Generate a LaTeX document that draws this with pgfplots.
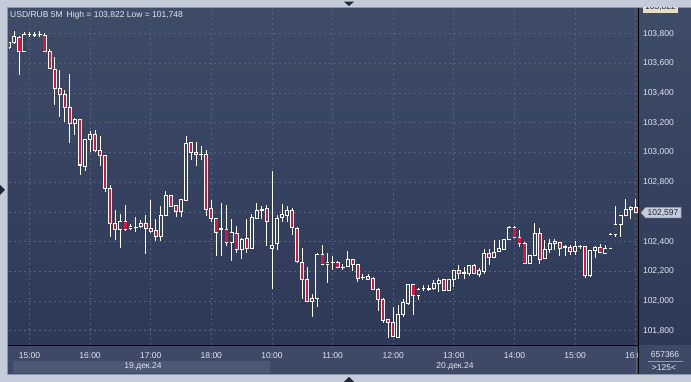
\documentclass[border=0pt]{standalone}
\usepackage{pgfplots}
\pgfplotsset{compat=1.18}
\usepackage{pgfplotstable}
\usepackage{fontspec}
\setmainfont{Liberation Sans}
\definecolor{frame}{HTML}{C4CCDA}
\definecolor{frameedge}{HTML}{8C97AB}
\definecolor{bgtop}{HTML}{3F4C68}
\definecolor{bgbot}{HTML}{2D3957}
\definecolor{band}{HTML}{3D4966}
\definecolor{band2}{HTML}{4A5876}
\definecolor{gridc}{HTML}{56637E}
\definecolor{txt}{HTML}{E2E6EE}
\definecolor{bear}{HTML}{DC143C}
\definecolor{bullfill}{HTML}{36435F}
\definecolor{tri}{HTML}{1C2638}
\definecolor{beige}{HTML}{E6DFC6}
\pgfplotstableread{
k o h l c
-4 103.706 103.745 103.700 103.739
-3 103.743 103.822 103.728 103.780
-2 103.775 103.785 103.521 103.679
-1 103.683 103.815 103.680 103.795
0 103.795 103.810 103.780 103.795
1 103.795 103.810 103.775 103.790
2 103.793 103.820 103.775 103.793
3 103.790 103.802 103.676 103.679
4 103.680 103.695 103.560 103.564
5 103.559 103.645 103.318 103.429
6 103.429 103.559 103.237 103.388
7 103.388 103.424 103.204 103.301
8 103.301 103.532 103.065 103.193
9 103.193 103.233 103.116 103.222
10 103.222 103.228 102.849 102.916
11 102.907 103.090 102.873 103.087
12 103.087 103.147 103.001 103.121
13 103.121 103.154 103.005 103.011
14 103.011 103.114 102.907 102.977
15 102.977 102.980 102.731 102.761
16 102.761 102.778 102.430 102.525
17 102.525 102.614 102.412 102.484
18 102.484 102.587 102.356 102.534
19 102.534 102.648 102.470 102.484
20 102.490 102.520 102.480 102.500
21 102.495 102.569 102.468 102.497
22 102.502 102.547 102.491 102.525
23 102.525 102.581 102.318 102.491
24 102.491 102.682 102.457 102.468
25 102.473 102.552 102.407 102.434
26 102.434 102.641 102.407 102.579
27 102.579 102.738 102.579 102.709
28 102.709 102.712 102.630 102.637
29 102.641 102.645 102.563 102.603
30 102.603 102.685 102.563 102.682
31 102.677 103.109 102.675 103.060
32 103.065 103.070 102.947 102.997
33 102.997 103.069 102.907 102.984
34 102.986 103.047 102.947 102.984
35 102.985 103.019 102.574 102.619
36 102.626 102.682 102.529 102.558
37 102.558 102.560 102.306 102.464
38 102.484 102.660 102.306 102.488
39 102.479 102.648 102.367 102.394
40 102.394 102.552 102.266 102.464
41 102.457 102.502 102.326 102.345
42 102.345 102.423 102.282 102.412
43 102.419 102.552 102.322 102.356
44 102.356 102.587 102.354 102.565
45 102.558 102.660 102.552 102.610
46 102.617 102.641 102.552 102.610
47 102.626 102.648 102.371 102.536
48 102.356 102.878 102.079 102.371
49 102.385 102.581 102.345 102.558
50 102.562 102.653 102.529 102.585
51 102.574 102.641 102.529 102.608
52 102.608 102.626 102.446 102.498
53 102.491 102.495 102.255 102.266
54 102.259 102.356 102.012 102.147
55 102.147 102.228 101.990 101.996
56 101.996 102.048 101.894 102.019
57 102.019 102.320 101.962 102.316
58 102.316 102.378 102.245 102.248
59 102.248 102.322 102.124 102.262
60 102.259 102.304 102.210 102.259
61 102.262 102.266 102.220 102.225
62 102.228 102.248 102.210 102.228
63 102.232 102.340 102.230 102.282
64 102.282 102.286 102.205 102.248
65 102.248 102.250 102.131 102.154
66 102.158 102.180 102.140 102.158
67 102.164 102.180 102.140 102.147
68 102.149 102.164 102.075 102.079
69 102.079 102.085 101.935 102.012
70 102.012 102.020 101.850 101.867
71 101.872 101.880 101.748 101.854
72 101.857 101.962 101.755 101.760
73 101.753 101.973 101.750 101.906
74 101.911 102.012 101.894 101.992
75 101.985 102.115 101.975 102.108
76 102.108 102.112 101.906 102.036
77 102.036 102.085 102.007 102.079
78 102.081 102.110 102.065 102.081
79 102.079 102.105 102.070 102.083
80 102.086 102.142 102.075 102.115
81 102.115 102.154 102.063 102.135
82 102.142 102.148 102.065 102.068
83 102.070 102.145 102.068 102.142
84 102.142 102.210 102.093 102.203
85 102.203 102.243 102.149 102.187
86 102.187 102.232 102.147 102.190
87 102.187 102.245 102.169 102.241
88 102.241 102.250 102.185 102.187
89 102.181 102.221 102.160 102.203
90 102.198 102.349 102.183 102.322
91 102.322 102.349 102.243 102.295
92 102.295 102.412 102.290 102.329
93 102.333 102.412 102.330 102.356
94 102.349 102.420 102.345 102.417
95 102.417 102.508 102.410 102.495
96 102.495 102.505 102.428 102.430
97 102.430 102.480 102.363 102.390
98 102.390 102.395 102.248 102.250
99 102.250 102.306 102.248 102.304
100 102.304 102.525 102.300 102.457
101 102.457 102.491 102.250 102.277
102 102.288 102.412 102.280 102.349
103 102.345 102.417 102.322 102.385
104 102.385 102.417 102.345 102.398
105 102.396 102.400 102.300 102.356
106 102.360 102.380 102.300 102.365
107 102.363 102.380 102.310 102.333
108 102.333 102.401 102.310 102.367
109 102.369 102.378 102.350 102.369
110 102.367 102.370 102.154 102.169
111 102.169 102.345 102.160 102.340
112 102.340 102.370 102.288 102.363
113 102.363 102.385 102.325 102.329
114 102.318 102.378 102.315 102.356
115 102.356 102.461 102.350 102.446
116 102.446 102.637 102.434 102.513
117 102.513 102.580 102.434 102.574
118 102.574 102.687 102.570 102.614
119 102.614 102.640 102.552 102.632
120 102.632 102.687 102.590 102.597
}\candles
\newcommand{\lab}{\fontsize{8.5}{10}\selectfont}
\pgfplotsset{candle/.style={only marks, mark=none, mark size=0pt,
  mark options={draw=none, fill=none}, forget plot}}
\begin{document}
\begin{tikzpicture}
\begin{scope}[x=1pt,y=1pt]
\fill[frame] (0,0) rectangle (691,382);
\fill[band] (8,7) rectangle (691,374.5);
\shade[top color=bgtop,bottom color=bgbot] (8,37) rectangle (691,374.5);
\end{scope}
\begin{axis}[
  at={(9pt,37pt)}, anchor=south west, scale only axis,
  width=629pt, height=337.5pt,
  xmin=-4.05, xmax=120.45, ymin=101.7035, ymax=103.977,
  axis line style={draw=none},
  major tick length=0pt,
  xtick={0,12,24,36,48,60,72,84,96,108,120},
  xticklabels={15:00,16:00,17:00,18:00,10:00,11:00,12:00,13:00,14:00,15:00,16:00},
  ytick={101.8,102,102.2,102.4,102.6,102.8,103,103.2,103.4,103.6,103.8},
  yticklabels={{101,800},{102,000},{102,200},{102,400},{},{102,800},{103,000},{103,200},{103,400},{103,600},{103,800}},
  yticklabel pos=right,
  grid=major,
  major grid style={gridc, dash pattern=on 2pt off 3pt, line width=0.8pt},
  ticklabel style={font=\lab, text=txt},
  xticklabel style={yshift=-4.5pt},
  yticklabel style={xshift=1.5pt},
]
\addplot[candle, error bars/.cd, y dir=plus, y explicit, error mark=none,
  error bar style={draw=white, solid, line width=0.9pt}]
  table[x=k, y=l, y error plus expr={\thisrow{h}-\thisrow{l}}] {\candles};
\addplot[candle, error bars/.cd, y dir=plus, y explicit, error mark=none,
  error bar style={draw=white, solid, line width=3.9pt}]
  table[x=k, y expr={min(\thisrow{o},\thisrow{c})-0.0034}, y error plus expr={abs(\thisrow{c}-\thisrow{o})+0.0068}] {\candles};
\addplot[candle, restrict expr to domain={\thisrow{o}-\thisrow{c}}{0.0075:10},
  error bars/.cd, y dir=plus, y explicit, error mark=none,
  error bar style={draw=bear, solid, line width=2.3pt}]
  table[x=k, y expr={\thisrow{c}+0.0034}, y error plus expr={\thisrow{o}-\thisrow{c}-0.0068}] {\candles};
\addplot[candle, restrict expr to domain={\thisrow{c}-\thisrow{o}}{0.0075:10},
  error bars/.cd, y dir=plus, y explicit, error mark=none,
  error bar style={draw=bullfill, solid, line width=2.2pt}]
  table[x=k, y expr={\thisrow{o}+0.0034}, y error plus expr={\thisrow{c}-\thisrow{o}-0.0068}] {\candles};
\end{axis}
\begin{scope}[x=1pt,y=1pt]
% cover overflow of last time label
\fill[band] (639,7) rectangle (691,37);
% date band
\fill[band2] (12.7,8.7) rectangle (270,21.3);
\node[font=\lab, text=txt] at (143,16) {19.дек.24};
\node[font=\lab, text=txt] at (455,16) {20.дек.24};
\draw[gridc, line width=0.6pt] (636.5,8) -- (636.5,35);
% axis borders
\draw[black, line width=1.2pt] (8,36.6) -- (638.6,36.6);
\draw[black, line width=1.2pt] (638.6,7.2) -- (638.6,374.5);
% frame edges
\draw[frameedge, line width=1pt] (7.5,7) -- (7.5,374.5) -- (691,374.5);
\draw[frameedge, line width=1pt] (7.5,7.2) -- (691,7.2);
% title
\node[anchor=base west, font=\lab, text=txt, inner sep=0pt] at (10,364) {USD/RUB 5M\hspace{4pt}High = 103,822 Low = 101,748};
% price tag
\filldraw[fill=frame, draw=frameedge, line width=0.5pt] (641,169.3) -- (645.5,174.5) -- (681,174.5) -- (681,164) -- (645.5,164) -- cycle;
\node[font=\lab, text=tri] at (663,169.3) {102,597};
% top clipped tag
\begin{scope}
\clip (639,369) rectangle (691,374);
\fill[beige] (643,368.5) rectangle (678,380);
\node[font=\lab, text=tri] at (660.5,375) {103,822};
\end{scope}
% right bottom info
\node[font=\lab, text=txt] at (665,27.5) {657366};
\draw[frameedge, line width=0.6pt] (648,21) -- (683,21);
\node[font=\lab, text=txt] at (664,14.5) {>125<};
% triangles
\fill[tri] (344,380.3) -- (354,380.3) -- (349,376) -- cycle;
\fill[tri] (344,0) -- (354,0) -- (349,5) -- cycle;
\fill[tri] (0,197) -- (0,187) -- (5,192) -- cycle;
\end{scope}
\pgfresetboundingbox
\path[use as bounding box] (0,0) rectangle (691pt,382pt);
\end{tikzpicture}
\end{document}
